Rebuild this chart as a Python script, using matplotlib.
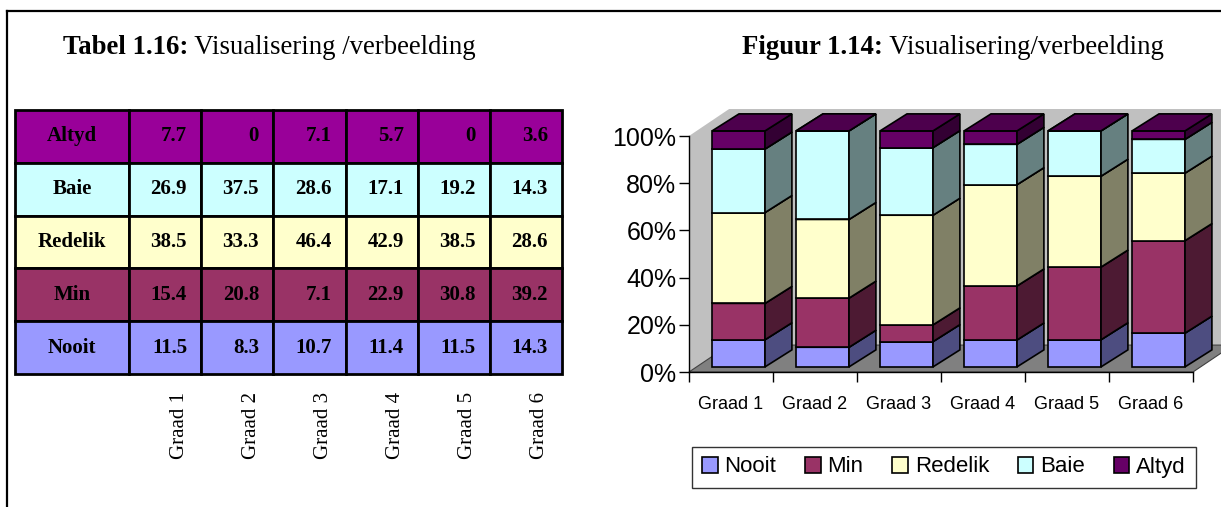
import numpy as np
import matplotlib.pyplot as plt
from matplotlib.patches import Rectangle, Polygon, Patch
from matplotlib.lines import Line2D

W, H = 1221, 507

grades = ['Graad 1', 'Graad 2', 'Graad 3', 'Graad 4', 'Graad 5', 'Graad 6']
series = ['Nooit', 'Min', 'Redelik', 'Baie', 'Altyd']
nooit = [11.5, 8.3, 10.7, 11.4, 11.5, 14.3]
min_ = [15.4, 20.8, 7.1, 22.9, 30.8, 39.2]
redelik = [38.5, 33.3, 46.4, 42.9, 38.5, 28.6]
baie = [26.9, 37.5, 28.6, 17.1, 19.2, 14.3]
altyd = [7.7, 0, 7.1, 5.7, 0, 3.6]

chart_colors = ['#9999ff', '#993366', '#ffffcc', '#ccffff', '#660066']
table_colors = ['#9999ff', '#993366', '#ffffcc', '#ccffff', '#990099']

values = np.array([nooit, min_, redelik, baie, altyd])

serif = ['Liberation Serif', 'DejaVu Serif']
sans = ['Liberation Sans', 'DejaVu Sans']


def box(x0, y0, x1, y1):
    # pixel box (top-left origin) -> figure rect
    return [x0 / W, 1 - y1 / H, (x1 - x0) / W, (y1 - y0) / H]


def shade(c, f):
    r, g, b = plt.matplotlib.colors.to_rgb(c)
    return (r * f, g * f, b * f)


fig = plt.figure(figsize=(W / 100, H / 100), dpi=100)

# page frame
fig.add_artist(Line2D([7 / W, 1], [1 - 11 / H, 1 - 11 / H], color='black', lw=1.6))
fig.add_artist(Line2D([7 / W, 7 / W], [0, 1 - 11 / H], color='black', lw=1.6))

# titles: bold caption number followed by regular text
for x, bold, rest in [(63, 'Tabel 1.16:', ' Visualisering /verbeelding'),
                      (742, 'Figuur 1.14:', ' Visualisering/verbeelding')]:
    t = fig.text(x / W, 1 - 47 / H, bold, fontsize=19.3, fontweight='bold', va='center',
                 family=serif)
    fig.canvas.draw()
    bb = t.get_window_extent()
    fig.text(bb.x1 / W, 1 - 47 / H, rest, fontsize=19.3, va='center', family=serif)

# ---- table ----
tax = fig.add_axes(box(15, 110, 562, 374))
edges = [0, 114, 186, 258, 331, 403, 475, 547]
tax.set_xlim(0, 547)
tax.set_ylim(5, 0)
tax.axis('off')
for r in range(5):
    s = 4 - r  # top row is Altyd
    for c in range(7):
        tax.add_patch(Rectangle((edges[c], r), edges[c + 1] - edges[c], 1,
                                facecolor=table_colors[s], edgecolor='black', lw=2,
                                clip_on=False))
    tax.text(edges[1] / 2, r + 0.5, series[s], ha='center', va='center',
             fontsize=15, fontweight='bold', family=serif)
    for c in range(6):
        tax.text(edges[c + 2] - 14, r + 0.5, f'{values[s][c]:g}', ha='right', va='center',
                 fontsize=15, fontweight='bold', family=serif)

for c in range(6):
    fig.text((15 + edges[c + 2] - 22) / W, 1 - 392 / H, grades[c], rotation=90,
             ha='center', va='top', fontsize=15, family=serif)

# ---- 3D stacked 100% column chart ----
ax = fig.add_axes(box(689, 136, 1193, 372))
ax.set_xlim(0, 6)
ax.set_ylim(0, 100)
DX, DY = 0.476, 11.4           # depth of the chart box
OX, OY = 0.09, 2.17            # bar front offset from front plane
BDX, BDY = 0.32, 7.2           # bar depth
bw = 0.63

ax.add_patch(Polygon([(0, 0), (DX, DY), (DX, 100 + DY), (0, 100)], closed=True,
                     facecolor='#c0c0c0', edgecolor='none', clip_on=False, zorder=0.5))
ax.add_patch(Rectangle((DX, DY), 6, 100, facecolor='#c0c0c0', edgecolor='none',
                       clip_on=False, zorder=0.5))
ax.add_patch(Polygon([(0, 0), (6, 0), (6 + DX, DY), (DX, DY)], closed=True,
                     facecolor='#808080', edgecolor='#404040', lw=0.8, clip_on=False,
                     zorder=0.6))

pct = values / values.sum(axis=0) * 100
bottoms = np.vstack([np.zeros(6), np.cumsum(pct, axis=0)[:-1]])
for i in range(6):
    x0 = i + 0.5 - bw / 2 + OX
    x1 = x0 + bw
    for s in range(5):
        b = bottoms[s, i] + OY
        t = b + pct[s, i]
        ec = dict(edgecolor='black', lw=1.2, clip_on=False, zorder=3)
        ax.add_patch(Rectangle((x0, b), bw, pct[s, i], facecolor=chart_colors[s], **ec))
        ax.add_patch(Polygon([(x1, b), (x1 + BDX, b + BDY), (x1 + BDX, t + BDY), (x1, t)],
                             closed=True, facecolor=shade(chart_colors[s], 0.5), **ec))
        ax.add_patch(Polygon([(x0, t), (x1, t), (x1 + BDX, t + BDY), (x0 + BDX, t + BDY)],
                             closed=True, facecolor=shade(chart_colors[s], 0.75), **ec))

for side in ['top', 'right']:
    ax.spines[side].set_visible(False)
for side in ['left', 'bottom']:
    ax.spines[side].set_linewidth(1)
    ax.spines[side].set_zorder(4)
ax.set_yticks(np.arange(0, 101, 20))
ax.set_yticklabels([f'{v}%' for v in range(0, 101, 20)], family=sans, fontsize=18)
ax.set_xticks(np.arange(7))
ax.set_xticklabels([])
ax.set_xticks(np.arange(6) + 0.5, minor=True)
ax.set_xticklabels(grades, minor=True, family=sans, fontsize=13)
ax.tick_params(axis='y', direction='out', length=7, width=1, pad=2)
ax.tick_params(axis='x', which='major', direction='out', length=7, width=1)
ax.tick_params(axis='x', which='minor', length=0, pad=17)
ax.patch.set_visible(False)

handles = [Patch(facecolor=c, edgecolor='black', lw=1.2) for c in chart_colors]
leg = fig.legend(handles, series, ncol=5, loc='center', bbox_to_anchor=(944 / W, 1 - 467 / H),
                 frameon=True, fancybox=False, prop={'family': sans, 'size': 16},
                 handlelength=0.7, handleheight=0.7, handletextpad=0.3, columnspacing=1.3,
                 borderpad=0.45)
leg.get_frame().set_edgecolor('black')
leg.get_frame().set_linewidth(1)

fig.savefig('out.png', dpi=100)
